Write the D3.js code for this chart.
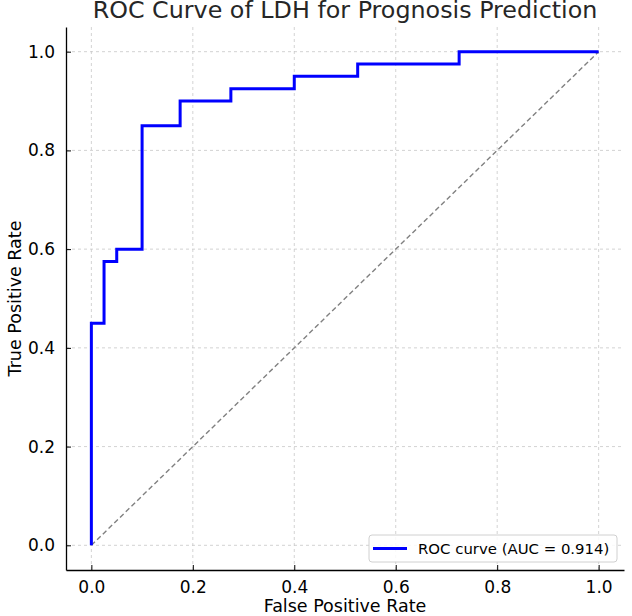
<!doctype html>
<html lang="en">
<head>
  <meta charset="UTF-8">
  <title>ROC</title>
  <script src="https://cdn.jsdelivr.net/npm/d3@7"></script>
  <style>
    body { margin: 0; background: white; }
    text { font-family: "DejaVu Sans", sans-serif; }
  </style>
</head>
<body>
<div id="container"></div>
<script type="text/javascript">
// ROC steps (false positive rate, true positive rate)
var fpr = [0, 0, 0.025, 0.025, 0.05, 0.05, 0.1, 0.1, 0.175, 0.175, 0.275, 0.275, 0.4, 0.4, 0.525, 0.525, 0.725, 0.725, 1.0];
var tpr = [0, 0.45, 0.45, 0.575, 0.575, 0.6, 0.6, 0.85, 0.85, 0.9, 0.9, 0.925, 0.925, 0.95, 0.95, 0.975, 0.975, 1.0, 1.0];
var chanceLine = [0, 1];
var tickValues = [0, 0.2, 0.4, 0.6, 0.8, 1.0];
var auc = 0.914;

var width = 632, height = 616;
var plotLeft = 66, plotRight = 624, plotTop = 27, plotBottom = 570;

var svg = d3.select('#container').append('svg')
  .attr('width', width)
  .attr('height', height);

var x = d3.scaleLinear().domain([-0.05, 1.05]).range([plotLeft, plotRight]);
var y = d3.scaleLinear().domain([-0.05, 1.05]).range([plotBottom, plotTop]);

// grid
svg.append('g').selectAll('line.vg').data(tickValues).enter()
  .append('line')
  .attr('x1', function(d) { return x(d); })
  .attr('x2', function(d) { return x(d); })
  .attr('y1', plotTop).attr('y2', plotBottom)
  .attr('stroke', '#c8c8c8').attr('stroke-width', 0.8)
  .attr('stroke-dasharray', '3,3');
svg.append('g').selectAll('line.hg').data(tickValues).enter()
  .append('line')
  .attr('y1', function(d) { return y(d); })
  .attr('y2', function(d) { return y(d); })
  .attr('x1', plotLeft).attr('x2', plotRight)
  .attr('stroke', '#c8c8c8').attr('stroke-width', 0.8)
  .attr('stroke-dasharray', '3,3');

// chance diagonal
svg.append('line')
  .attr('x1', x(chanceLine[0])).attr('y1', y(chanceLine[0]))
  .attr('x2', x(chanceLine[1])).attr('y2', y(chanceLine[1]))
  .attr('stroke', '#808080').attr('stroke-width', 1.4)
  .attr('stroke-dasharray', '5,3');

// roc curve
var pts = fpr.map(function(f, i) { return [f, tpr[i]]; });
var line = d3.line()
  .x(function(d) { return x(d[0]); })
  .y(function(d) { return y(d[1]); });
svg.append('path')
  .attr('d', line(pts))
  .attr('fill', 'none')
  .attr('stroke', '#0000ff')
  .attr('stroke-width', 3)
  .attr('stroke-linejoin', 'miter');

// axes
var xAxis = d3.axisBottom(x).tickValues(tickValues).tickFormat(d3.format('.1f'))
  .tickSizeInner(-5).tickSizeOuter(0).tickPadding(11);
var yAxis = d3.axisLeft(y).tickValues(tickValues).tickFormat(d3.format('.1f'))
  .tickSizeInner(-5).tickSizeOuter(0).tickPadding(11);

var gx = svg.append('g').attr('transform', 'translate(0,' + plotBottom + ')').call(xAxis);
var gy = svg.append('g').attr('transform', 'translate(' + plotLeft + ',0)').call(yAxis);
[gx, gy].forEach(function(g) {
  g.selectAll('text').style('font-size', '17px').attr('fill', '#000');
  g.selectAll('line').attr('stroke', '#000').attr('stroke-width', 1);
  g.select('.domain').attr('stroke', '#000').attr('stroke-width', 1.3);
});

// labels
svg.append('text')
  .attr('x', (x(0) + x(1)) / 2).attr('y', 18)
  .attr('text-anchor', 'middle')
  .style('font-size', '23.8px')
  .attr('fill', '#262626')
  .text('ROC Curve of LDH for Prognosis Prediction');

svg.append('text')
  .attr('x', (x(0) + x(1)) / 2).attr('y', 612)
  .attr('text-anchor', 'middle')
  .style('font-size', '17.5px')
  .text('False Positive Rate');

svg.append('text')
  .attr('transform', 'translate(21,' + ((y(0) + y(1)) / 2) + ') rotate(-90)')
  .attr('text-anchor', 'middle')
  .style('font-size', '17.5px')
  .text('True Positive Rate');

// legend
var lg = svg.append('g').attr('transform', 'translate(369,535)');
lg.append('rect')
  .attr('width', 248).attr('height', 27)
  .attr('rx', 3)
  .attr('fill', 'white').attr('fill-opacity', 0.85)
  .attr('stroke', '#d0d0d0');
lg.append('line')
  .attr('x1', 4).attr('x2', 38).attr('y1', 13.5).attr('y2', 13.5)
  .attr('stroke', '#0000ff').attr('stroke-width', 3);
lg.append('text')
  .attr('x', 49).attr('y', 19)
  .style('font-size', '14.9px')
  .text('ROC curve (AUC = ' + auc.toFixed(3) + ')');
</script>
</body>
</html>
